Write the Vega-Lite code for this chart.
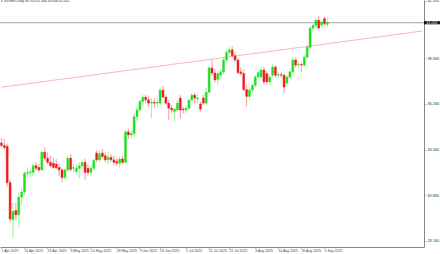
{
  "$schema": "https://vega.github.io/schema/vega-lite/v6.json",
  "width": 424,
  "height": 247,
  "autosize": {"type": "none"},
  "padding": {"left": 0, "top": 0, "right": 16, "bottom": 7},
  "background": "white",
  "config": {"view": {"stroke": null}, "font": "Liberation Sans", "axis": {"labelOverlap": false, "labelFlush": false, "labelBound": false}},
  "title": {"text": "▾ SILVER,Daily  40.953 41.366 40.808 41.052", "anchor": "start", "frame": "group", "orient": "top", "offset": -6, "baseline": "alphabetic", "fontSize": 3.4, "fontWeight": "normal", "color": "#333333", "dx": 1},
  "datasets": {
    "ohlc": [
      {"d":"1 Apr 2025","o":33.95,"h":34.25,"l":33.70,"c":33.80},
      {"d":"2 Apr 2025","o":33.80,"h":34.20,"l":33.55,"c":33.68},
      {"d":"3 Apr 2025","o":33.75,"h":33.90,"l":31.40,"c":31.60},
      {"d":"4 Apr 2025","o":31.60,"h":31.80,"l":29.30,"c":29.45},
      {"d":"7 Apr 2025","o":29.42,"h":30.40,"l":28.30,"c":29.90},
      {"d":"8 Apr 2025","o":29.95,"h":30.40,"l":29.40,"c":29.70},
      {"d":"9 Apr 2025","o":29.70,"h":31.00,"l":29.00,"c":30.75},
      {"d":"10 Apr 2025","o":30.75,"h":31.30,"l":30.30,"c":31.05},
      {"d":"11 Apr 2025","o":31.05,"h":32.30,"l":30.90,"c":32.15},
      {"d":"14 Apr 2025","o":32.15,"h":32.50,"l":31.90,"c":32.20},
      {"d":"15 Apr 2025","o":32.20,"h":32.40,"l":31.90,"c":32.24},
      {"d":"16 Apr 2025","o":32.20,"h":32.80,"l":32.00,"c":32.60},
      {"d":"17 Apr 2025","o":32.60,"h":32.80,"l":32.30,"c":32.45},
      {"d":"21 Apr 2025","o":32.50,"h":32.70,"l":32.20,"c":32.35},
      {"d":"22 Apr 2025","o":32.35,"h":33.50,"l":32.30,"c":33.40},
      {"d":"23 Apr 2025","o":33.40,"h":33.70,"l":32.90,"c":33.05},
      {"d":"24 Apr 2025","o":33.05,"h":33.40,"l":32.70,"c":32.80},
      {"d":"25 Apr 2025","o":32.80,"h":33.20,"l":32.50,"c":32.60},
      {"d":"28 Apr 2025","o":32.75,"h":33.10,"l":32.40,"c":32.50},
      {"d":"29 Apr 2025","o":32.70,"h":33.00,"l":32.40,"c":32.48},
      {"d":"30 Apr 2025","o":32.50,"h":32.70,"l":32.00,"c":32.35},
      {"d":"1 May 2025","o":32.35,"h":32.50,"l":31.60,"c":31.90},
      {"d":"2 May 2025","o":31.90,"h":32.50,"l":31.80,"c":32.35},
      {"d":"5 May 2025","o":32.35,"h":33.20,"l":32.20,"c":33.05},
      {"d":"6 May 2025","o":33.05,"h":33.30,"l":32.25,"c":32.38},
      {"d":"7 May 2025","o":32.45,"h":32.70,"l":32.20,"c":32.50},
      {"d":"8 May 2025","o":32.25,"h":32.70,"l":32.10,"c":32.45},
      {"d":"9 May 2025","o":32.45,"h":32.80,"l":31.85,"c":32.60},
      {"d":"12 May 2025","o":32.60,"h":32.90,"l":32.30,"c":32.80},
      {"d":"13 May 2025","o":32.80,"h":33.00,"l":31.75,"c":32.20},
      {"d":"14 May 2025","o":32.45,"h":32.70,"l":32.00,"c":32.20},
      {"d":"15 May 2025","o":32.20,"h":32.60,"l":32.00,"c":32.45},
      {"d":"16 May 2025","o":32.45,"h":33.00,"l":32.30,"c":32.92},
      {"d":"19 May 2025","o":33.35,"h":33.50,"l":32.80,"c":32.95},
      {"d":"20 May 2025","o":32.95,"h":33.50,"l":32.80,"c":33.30},
      {"d":"21 May 2025","o":33.35,"h":33.60,"l":33.00,"c":33.15},
      {"d":"22 May 2025","o":33.20,"h":33.40,"l":32.80,"c":32.95},
      {"d":"23 May 2025","o":32.95,"h":33.40,"l":32.70,"c":33.10},
      {"d":"26 May 2025","o":33.10,"h":33.30,"l":32.80,"c":32.95},
      {"d":"27 May 2025","o":32.95,"h":33.20,"l":32.60,"c":32.80},
      {"d":"28 May 2025","o":32.85,"h":33.10,"l":32.60,"c":32.75},
      {"d":"29 May 2025","o":32.75,"h":33.20,"l":32.50,"c":33.00},
      {"d":"30 May 2025","o":33.00,"h":33.20,"l":32.70,"c":32.80},
      {"d":"2 Jun 2025","o":32.80,"h":34.70,"l":32.75,"c":34.60},
      {"d":"3 Jun 2025","o":34.60,"h":34.80,"l":34.20,"c":34.42},
      {"d":"4 Jun 2025","o":34.42,"h":34.70,"l":34.20,"c":34.50},
      {"d":"5 Jun 2025","o":34.50,"h":35.70,"l":34.30,"c":35.50},
      {"d":"6 Jun 2025","o":35.50,"h":36.10,"l":35.30,"c":35.90},
      {"d":"9 Jun 2025","o":35.90,"h":36.50,"l":35.80,"c":36.40},
      {"d":"10 Jun 2025","o":36.40,"h":36.80,"l":36.20,"c":36.65},
      {"d":"11 Jun 2025","o":36.65,"h":36.80,"l":36.30,"c":36.50},
      {"d":"12 Jun 2025","o":36.50,"h":36.70,"l":36.10,"c":36.30},
      {"d":"13 Jun 2025","o":36.30,"h":36.60,"l":35.40,"c":36.35},
      {"d":"16 Jun 2025","o":36.35,"h":36.60,"l":36.00,"c":36.30},
      {"d":"17 Jun 2025","o":36.30,"h":36.60,"l":36.00,"c":36.35},
      {"d":"18 Jun 2025","o":36.30,"h":37.20,"l":36.20,"c":37.07},
      {"d":"19 Jun 2025","o":37.07,"h":37.30,"l":36.60,"c":36.66},
      {"d":"20 Jun 2025","o":36.66,"h":36.80,"l":36.20,"c":36.30},
      {"d":"23 Jun 2025","o":36.30,"h":36.50,"l":35.30,"c":36.00},
      {"d":"24 Jun 2025","o":36.00,"h":36.20,"l":35.70,"c":35.90},
      {"d":"25 Jun 2025","o":35.80,"h":36.00,"l":35.20,"c":35.95},
      {"d":"26 Jun 2025","o":35.90,"h":36.50,"l":35.80,"c":36.30},
      {"d":"27 Jun 2025","o":36.60,"h":36.80,"l":35.40,"c":35.90},
      {"d":"30 Jun 2025","o":35.95,"h":36.10,"l":35.70,"c":35.90},
      {"d":"1 Jul 2025","o":35.90,"h":36.10,"l":35.70,"c":36.00},
      {"d":"2 Jul 2025","o":36.00,"h":36.50,"l":35.90,"c":36.48},
      {"d":"3 Jul 2025","o":36.48,"h":36.90,"l":36.40,"c":36.77},
      {"d":"4 Jul 2025","o":36.77,"h":36.90,"l":36.30,"c":36.60},
      {"d":"7 Jul 2025","o":36.55,"h":36.80,"l":36.30,"c":36.60},
      {"d":"8 Jul 2025","o":36.25,"h":36.40,"l":35.80,"c":35.95},
      {"d":"9 Jul 2025","o":36.60,"h":36.80,"l":36.20,"c":36.30},
      {"d":"10 Jul 2025","o":36.30,"h":37.20,"l":36.20,"c":36.95},
      {"d":"11 Jul 2025","o":36.95,"h":38.50,"l":36.90,"c":38.38},
      {"d":"14 Jul 2025","o":38.38,"h":38.85,"l":37.90,"c":38.08},
      {"d":"15 Jul 2025","o":38.08,"h":38.30,"l":37.50,"c":37.67},
      {"d":"16 Jul 2025","o":37.70,"h":38.20,"l":37.40,"c":38.05},
      {"d":"17 Jul 2025","o":37.95,"h":38.30,"l":37.80,"c":38.15},
      {"d":"18 Jul 2025","o":38.15,"h":39.00,"l":38.00,"c":38.85},
      {"d":"21 Jul 2025","o":38.85,"h":39.45,"l":38.70,"c":39.30},
      {"d":"22 Jul 2025","o":39.30,"h":39.60,"l":39.10,"c":39.45},
      {"d":"23 Jul 2025","o":39.45,"h":39.65,"l":39.00,"c":39.10},
      {"d":"24 Jul 2025","o":39.10,"h":39.30,"l":38.70,"c":38.85},
      {"d":"25 Jul 2025","o":38.85,"h":39.00,"l":38.00,"c":38.10},
      {"d":"28 Jul 2025","o":38.15,"h":38.40,"l":37.90,"c":38.05},
      {"d":"29 Jul 2025","o":38.05,"h":38.30,"l":37.00,"c":37.10},
      {"d":"30 Jul 2025","o":37.10,"h":37.40,"l":36.10,"c":36.70},
      {"d":"31 Jul 2025","o":36.70,"h":37.20,"l":36.50,"c":37.07},
      {"d":"1 Aug 2025","o":37.07,"h":37.50,"l":36.90,"c":37.35},
      {"d":"4 Aug 2025","o":37.35,"h":37.95,"l":37.20,"c":37.85},
      {"d":"5 Aug 2025","o":37.85,"h":38.20,"l":37.70,"c":38.10},
      {"d":"6 Aug 2025","o":37.85,"h":38.40,"l":37.75,"c":38.26},
      {"d":"7 Aug 2025","o":38.26,"h":38.45,"l":37.40,"c":37.55},
      {"d":"8 Aug 2025","o":38.05,"h":38.20,"l":37.45,"c":37.55},
      {"d":"11 Aug 2025","o":37.55,"h":38.00,"l":37.35,"c":37.84},
      {"d":"12 Aug 2025","o":37.95,"h":38.60,"l":37.85,"c":38.43},
      {"d":"13 Aug 2025","o":38.43,"h":38.55,"l":37.80,"c":37.95},
      {"d":"14 Aug 2025","o":37.95,"h":38.15,"l":37.80,"c":37.98},
      {"d":"15 Aug 2025","o":37.98,"h":38.10,"l":37.80,"c":37.95},
      {"d":"18 Aug 2025","o":37.95,"h":38.05,"l":36.90,"c":37.25},
      {"d":"19 Aug 2025","o":37.50,"h":37.95,"l":37.35,"c":37.84},
      {"d":"20 Aug 2025","o":37.84,"h":38.30,"l":37.70,"c":38.15},
      {"d":"21 Aug 2025","o":38.15,"h":39.00,"l":38.05,"c":38.85},
      {"d":"22 Aug 2025","o":38.85,"h":39.00,"l":38.40,"c":38.55},
      {"d":"25 Aug 2025","o":38.55,"h":38.75,"l":38.40,"c":38.58},
      {"d":"26 Aug 2025","o":38.58,"h":38.70,"l":38.10,"c":38.55},
      {"d":"27 Aug 2025","o":38.55,"h":39.15,"l":38.45,"c":39.02},
      {"d":"28 Aug 2025","o":39.02,"h":39.75,"l":38.90,"c":39.60},
      {"d":"29 Aug 2025","o":39.60,"h":40.85,"l":39.50,"c":40.73},
      {"d":"1 Sep 2025","o":40.73,"h":41.00,"l":40.60,"c":40.90},
      {"d":"2 Sep 2025","o":40.90,"h":41.30,"l":40.75,"c":41.20},
      {"d":"3 Sep 2025","o":41.20,"h":41.45,"l":40.60,"c":40.74},
      {"d":"4 Sep 2025","o":40.92,"h":41.20,"l":40.80,"c":41.09},
      {"d":"5 Sep 2025","o":41.30,"h":41.39,"l":40.85,"c":41.00},
      {"d":"8 Sep 2025","o":40.953,"h":41.366,"l":40.808,"c":41.052}
    ],
    "trend": [
      {"d":"1 Apr 2025","p":37.24},
      {"d":"23 Oct 2025","p":40.56}
    ],
    "bid": [{"p":41.052, "d":"23 Oct 2025", "t":"41.052"}]
  },
  "layer": [
    {
      "data": {"name": "trend"},
      "mark": {"type": "line", "color": "#f2a6a6", "strokeWidth": 0.8},
      "encoding": {
        "x": {"field": "d", "type": "ordinal", "sort": null},
        "y": {"field": "p", "type": "quantitative"}
      }
    },
    {
      "data": {"name": "bid"},
      "mark": {"type": "rule", "color": "#9a9a9a", "strokeWidth": 0.9},
      "encoding": {
        "y": {"field": "p", "type": "quantitative"}
      }
    },
    {
      "data": {"name": "ohlc"},
      "mark": {"type": "rule", "strokeWidth": 0.8, "opacity": 0.55},
      "encoding": {
        "x": {"field": "d", "type": "ordinal", "sort": null,
          "scale": {"paddingInner": 0, "paddingOuter": 0, "domain": ["1 Apr 2025","2 Apr 2025","3 Apr 2025","4 Apr 2025","7 Apr 2025","8 Apr 2025","9 Apr 2025","10 Apr 2025","11 Apr 2025","14 Apr 2025","15 Apr 2025","16 Apr 2025","17 Apr 2025","21 Apr 2025","22 Apr 2025","23 Apr 2025","24 Apr 2025","25 Apr 2025","28 Apr 2025","29 Apr 2025","30 Apr 2025","1 May 2025","2 May 2025","5 May 2025","6 May 2025","7 May 2025","8 May 2025","9 May 2025","12 May 2025","13 May 2025","14 May 2025","15 May 2025","16 May 2025","19 May 2025","20 May 2025","21 May 2025","22 May 2025","23 May 2025","26 May 2025","27 May 2025","28 May 2025","29 May 2025","30 May 2025","2 Jun 2025","3 Jun 2025","4 Jun 2025","5 Jun 2025","6 Jun 2025","9 Jun 2025","10 Jun 2025","11 Jun 2025","12 Jun 2025","13 Jun 2025","16 Jun 2025","17 Jun 2025","18 Jun 2025","19 Jun 2025","20 Jun 2025","23 Jun 2025","24 Jun 2025","25 Jun 2025","26 Jun 2025","27 Jun 2025","30 Jun 2025","1 Jul 2025","2 Jul 2025","3 Jul 2025","4 Jul 2025","7 Jul 2025","8 Jul 2025","9 Jul 2025","10 Jul 2025","11 Jul 2025","14 Jul 2025","15 Jul 2025","16 Jul 2025","17 Jul 2025","18 Jul 2025","21 Jul 2025","22 Jul 2025","23 Jul 2025","24 Jul 2025","25 Jul 2025","28 Jul 2025","29 Jul 2025","30 Jul 2025","31 Jul 2025","1 Aug 2025","4 Aug 2025","5 Aug 2025","6 Aug 2025","7 Aug 2025","8 Aug 2025","11 Aug 2025","12 Aug 2025","13 Aug 2025","14 Aug 2025","15 Aug 2025","18 Aug 2025","19 Aug 2025","20 Aug 2025","21 Aug 2025","22 Aug 2025","25 Aug 2025","26 Aug 2025","27 Aug 2025","28 Aug 2025","29 Aug 2025","1 Sep 2025","2 Sep 2025","3 Sep 2025","4 Sep 2025","5 Sep 2025","8 Sep 2025","9 Sep 2025","10 Sep 2025","11 Sep 2025","12 Sep 2025","15 Sep 2025","16 Sep 2025","17 Sep 2025","18 Sep 2025","19 Sep 2025","22 Sep 2025","23 Sep 2025","24 Sep 2025","25 Sep 2025","26 Sep 2025","29 Sep 2025","30 Sep 2025","1 Oct 2025","2 Oct 2025","3 Oct 2025","6 Oct 2025","7 Oct 2025","8 Oct 2025","9 Oct 2025","10 Oct 2025","13 Oct 2025","14 Oct 2025","15 Oct 2025","16 Oct 2025","17 Oct 2025","20 Oct 2025","21 Oct 2025","22 Oct 2025","23 Oct 2025"]},
          "axis": {"title": null, "orient": "bottom", "values": ["1 Apr 2025","11 Apr 2025","24 Apr 2025","6 May 2025","15 May 2025","28 May 2025","9 Jun 2025","18 Jun 2025","1 Jul 2025","11 Jul 2025","22 Jul 2025","4 Aug 2025","14 Aug 2025","26 Aug 2025","5 Sep 2025"],
            "labelAngle": 0, "labelAlign": "left", "labelBaseline": "top", "labelPadding": 0.3, "labelFontSize": 3.5, "labelColor": "#444444", "labelFlush": false, "labelOverlap": false, "labelBound": false,
            "tickSize": 1.5, "tickColor": "#888888", "tickWidth": 0.6, "domainColor": "#888888", "domainWidth": 1, "grid": false}
        },
        "y": {"field": "l", "type": "quantitative",
          "scale": {"domain": [27.8, 42.394], "zero": false, "nice": false},
          "axis": {"title": null, "orient": "right", "grid": false, "format": ".3f",
            "values": [42.335, 41.66, 40.31, 39.635, 38.96, 38.285, 37.61, 36.935, 36.26, 35.585, 34.91, 34.235, 33.56, 32.885, 32.21, 31.535, 30.86, 30.185, 29.51, 28.835, 28.16],
            "labelAlign": "left", "labelBaseline": "middle", "labelFontSize": 3.8, "labelColor": "#333333", "labelPadding": 1, "labelFlush": false, "labelOverlap": false, "labelBound": false,
            "tickSize": 2, "tickWidth": 0.6, "tickColor": "#888888",
            "domainColor": "#888888", "domainWidth": 1}
        },
        "y2": {"field": "h"},
        "color": {"condition": {"test": "datum.c >= datum.o", "value": "#1fe01f"}, "value": "#ee1c1c"}
      }
    },
    {
      "data": {"name": "ohlc"},
      "mark": {"type": "bar", "size": 2, "strokeWidth": 0.4},
      "encoding": {
        "x": {"field": "d", "type": "ordinal", "sort": null},
        "y": {"field": "o", "type": "quantitative"},
        "y2": {"field": "c"},
        "color": {"condition": {"test": "datum.c >= datum.o", "value": "#1fe01f"}, "value": "#ee1c1c"},
        "stroke": {"condition": {"test": "datum.c >= datum.o", "value": "#1fe01f"}, "value": "#ee1c1c"}
      }
    },
    {
      "data": {"name": "bid"},
      "mark": {"type": "point", "shape": "M-1,-0.2H1V0.2H-1Z", "filled": true, "size": 256, "color": "#1e0c14", "opacity": 1, "xOffset": 9.4, "clip": false},
      "encoding": {
        "x": {"field": "d", "type": "ordinal", "sort": null},
        "y": {"field": "p", "type": "quantitative"}
      }
    },
    {
      "data": {"name": "bid"},
      "mark": {"type": "text", "color": "#ffffff", "fontSize": 3.6, "align": "center", "baseline": "middle", "xOffset": 9.4, "clip": false},
      "encoding": {
        "x": {"field": "d", "type": "ordinal", "sort": null},
        "y": {"field": "p", "type": "quantitative"},
        "text": {"field": "t"}
      }
    }
  ]
}
